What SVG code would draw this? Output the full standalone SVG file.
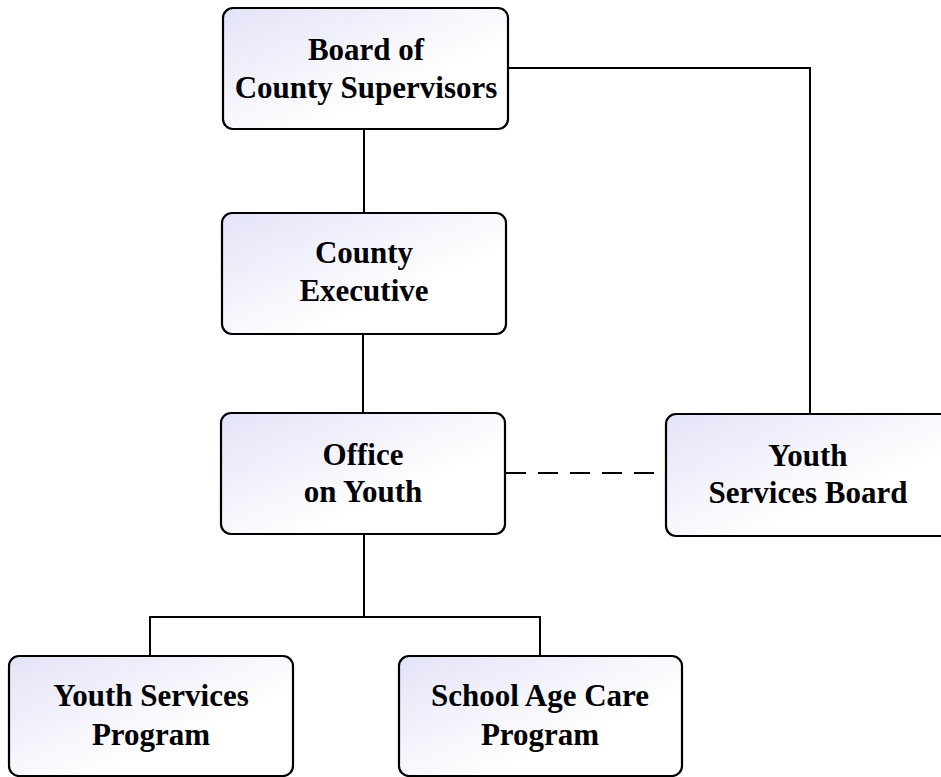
<svg xmlns="http://www.w3.org/2000/svg" width="941" height="777" viewBox="0 0 941 777">
<style>
.box{stroke:#000;stroke-width:2.2;fill:url(#g)}
.t{font-family:"Liberation Serif","Times New Roman",serif;font-weight:bold;font-size:31px;fill:#000;text-anchor:middle}
.c{stroke:#000;stroke-width:2;fill:none}
.d{stroke-dasharray:20 12}
</style>
<defs>
<linearGradient id="g" x1="0" y1="0" x2="1" y2="1">
<stop offset="0" stop-color="#e3e3f8"/>
<stop offset="0.65" stop-color="#ffffff"/>
<stop offset="1" stop-color="#ffffff"/>
</linearGradient>
</defs>
<rect width="941" height="777" fill="#fff"/>
<g id="connectors">
<line class="c" x1="364" y1="129" x2="364" y2="213"/>
<line class="c" x1="363" y1="334" x2="363" y2="413"/>
<polyline class="c" points="508,68 810,68 810,414"/>
<line class="c d" x1="506" y1="473" x2="666" y2="473"/>
<line class="c" x1="364" y1="534" x2="364" y2="617"/>
<polyline class="c" points="150,656 150,617 540,617 540,656"/>
</g>
<g id="board">
<rect class="box" x="223" y="8" width="285" height="121" rx="10"/>
<text class="t" x="366" y="60">Board of</text>
<text class="t" x="366" y="98">County Supervisors</text>
</g>
<g id="exec">
<rect class="box" x="222" y="213" width="284" height="121" rx="10"/>
<text class="t" x="364" y="263">County</text>
<text class="t" x="364" y="301">Executive</text>
</g>
<g id="office">
<rect class="box" x="221" y="413" width="284" height="121" rx="10"/>
<text class="t" x="363" y="465">Office</text>
<text class="t" x="363" y="502">on Youth</text>
</g>
<g id="ysb">
<rect class="box" x="666" y="414" width="285" height="122" rx="10"/>
<text class="t" x="808" y="466">Youth</text>
<text class="t" x="808" y="503">Services Board</text>
</g>
<g id="ysp">
<rect class="box" x="9" y="656" width="284" height="120" rx="10"/>
<text class="t" x="151" y="706">Youth Services</text>
<text class="t" x="151" y="745">Program</text>
</g>
<g id="sac">
<rect class="box" x="399" y="656" width="283" height="120" rx="10"/>
<text class="t" x="540" y="706">School Age Care</text>
<text class="t" x="540" y="745">Program</text>
</g>
</svg>
